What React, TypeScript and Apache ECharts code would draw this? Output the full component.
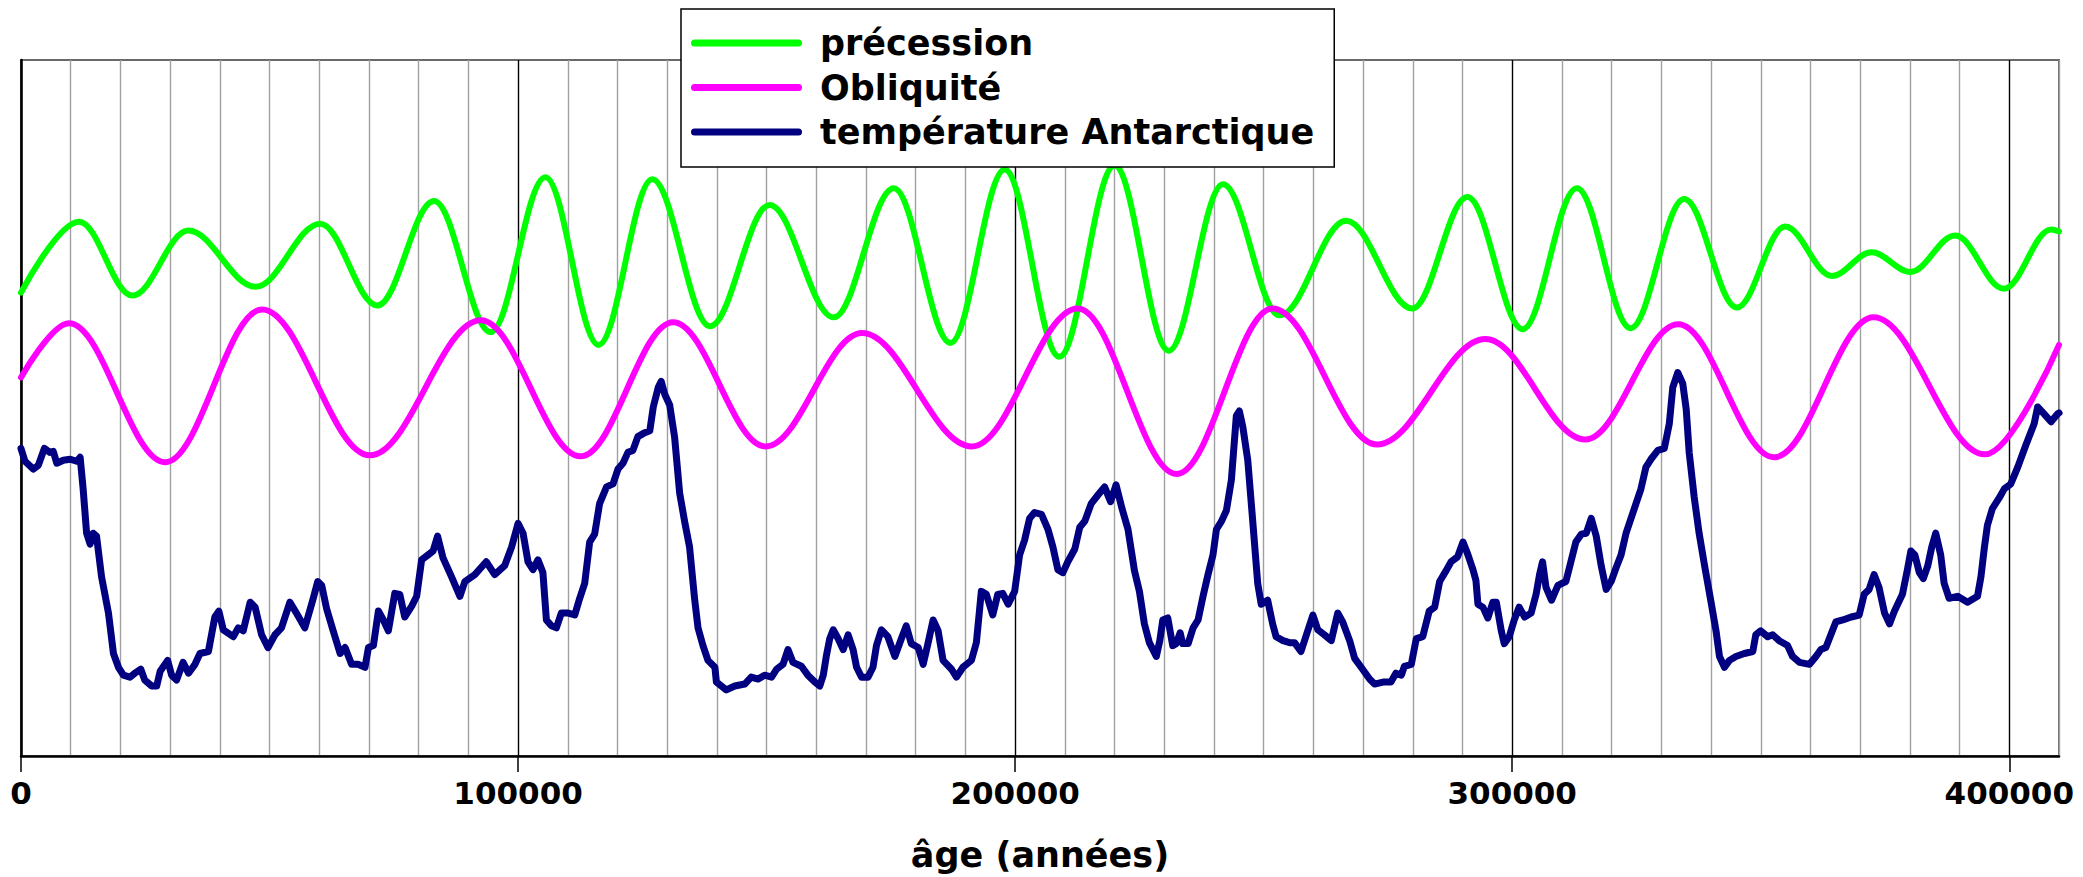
import React, { useEffect, useRef } from 'react';
import * as echarts from 'echarts';

// x: age in years; y: relative (arbitrary) units
const precessionYears = [0, 11700, 22400, 33650, 47200, 60200, 71700, 83100, 94500, 105500, 116200, 127000, 138600, 150600, 163500, 175600, 187000, 197900, 208900, 220000, 230900, 241800, 253200, 266600, 279900, 291000, 302100, 313000, 323800, 334600, 345200, 354900, 364300, 372300, 380100, 389100, 398900, 408400, 410000];
const precessionValues = [470, 542, 467, 533, 476, 540, 457, 563, 430, 587, 417, 585, 436, 559, 445, 576, 419, 595, 405, 599, 411, 580, 447, 543, 454, 567, 433, 576, 434, 565, 455, 537, 487, 511, 491, 528, 474, 534, 532];

const obliquityYears = [0, 9650, 29000, 48500, 70200, 92500, 112600, 131200, 149800, 169200, 191300, 212600, 232500, 251800, 272800, 294600, 314700, 333400, 352700, 372700, 395100, 410000];
const obliquityValues = [384, 439, 298, 453, 305, 442, 304, 440, 314, 429, 314, 454, 286, 454, 316, 423, 321, 438, 303, 445, 306, 417];

const tempYears = [
  0, 800, 2500, 3500, 4700, 5800, 6500, 7200, 8500, 9900, 11200, 11900, 12500, 13200, 13900, 14500, 15200, 16200, 17600, 18600, 19600, 20600, 21900, 22900, 24100, 24900, 26300, 27300, 28000, 29500, 30300, 31300, 32600, 33700, 35000, 36000, 37700, 39000, 39800, 40700, 42700, 43700, 44700, 46100, 47100, 48400, 49700, 51100, 52400, 54100, 55400, 57100, 58800, 59700, 60500, 61500, 62800, 64200, 65200, 66500, 67800, 69200, 69900, 70900, 71900, 72900, 73900, 75200, 76200, 77200, 78600, 79600, 80600, 81900, 82900, 83800, 84900, 86600, 88300, 89300, 91300, 93600, 95300, 97300, 98700, 100000, 101000, 102000, 103000,
  104000, 105000, 105700, 106700, 107700, 108700, 110100, 111400, 112400, 113400, 114400, 115400, 116400, 117800, 119100, 120100, 121100, 122100, 123100, 124100, 125500, 126500, 127200, 128200, 128800, 129500, 130500, 131500, 132500, 133500, 134500, 135500, 136200, 137200, 138200, 139600, 139900, 140900, 141900, 143600, 145600, 146900, 148300, 149600, 151000, 152000, 153300, 154300, 155300, 157000, 158300, 159700, 160700, 161400, 162000, 162700, 163400, 164400, 165400, 166400, 167400, 168100, 169100, 170400, 171400, 172100, 173100, 174400, 175800, 177100, 178100, 179100, 180500, 181500, 182500, 183500, 184500, 185500, 187200, 188200, 189500, 191200, 192200, 193200, 194200, 195500, 196500, 197500, 198600, 199900, 200900, 201900, 202900, 203900,
  205300, 206600, 207600, 208600, 209600, 210600, 212000, 213000, 214000, 215300, 216700, 218000, 219200, 220300, 221500, 222700, 224000, 225000, 226000, 227000, 228400, 229100, 229700, 230700, 231700, 232400, 233200, 233700, 234800, 235800, 236800, 237800, 238800, 239800, 240500, 241500, 242500, 243500, 244500, 245100, 245800, 246800, 247800, 248800, 249500, 250800, 251800, 252500, 253900, 255200, 256200, 257500, 258600, 259900, 260900, 262200, 263600, 264900, 265900, 267300, 268300, 269900, 271300, 272300, 274000, 275600, 276600, 277700, 278300, 279700, 280700, 282000, 283300, 284400, 285400, 286700, 287700, 289000, 290100, 291100, 292100, 292700, 293100, 294100, 295100, 296100, 296800, 297800, 298400, 299400, 300400, 301400, 302500, 303800, 304800, 305500, 306100, 306800, 307900,
  309200, 310800, 311800, 312800, 313900, 314900, 315900, 316900, 317900, 318900, 319900, 320900, 321900, 322900, 323900, 324900, 325900, 326900, 327900, 329300, 330600, 331600, 332300, 333300, 334300, 335000, 335600, 336600, 337600, 338700, 340000, 341000, 341700, 342700, 343700, 345000, 346700, 348400, 349000, 350000, 351400, 352400, 353700, 355400, 356400, 357800, 359800, 361100, 362100, 363100, 364100, 365100, 366500, 368200, 369800, 370800, 371800, 372800, 373800, 374900, 375900, 376900, 378500, 379500, 380200, 381000, 381900, 382700, 383600, 384400, 385200, 386200, 386900, 387900, 389600, 391600, 393600, 394300, 395000, 395600, 396600, 398000, 399000, 400300, 401700, 403300, 405000, 405700, 407000, 408400, 409700, 410000
];
const tempValues = [
  312, 299, 291, 295, 312, 308, 309, 297, 300, 301, 299, 303, 271, 226, 215, 226, 223, 182, 145, 104, 90, 82, 80, 84, 88, 77, 71, 71, 86, 97, 82, 77, 95, 84, 93, 104, 106, 141, 147, 128, 121, 130, 127, 156, 151, 123, 110, 123, 130, 156, 145, 130, 160, 177, 173, 149, 127, 104, 110, 93, 93, 90, 110, 112, 147, 138, 127, 165, 164, 141, 152, 162, 199, 204, 208, 223, 201, 182, 162, 177, 184, 197, 184, 193, 212, 236, 226, 197, 189,
  199, 186, 138, 132, 130, 145, 145, 143, 160, 175, 217, 225, 256, 273, 276, 291, 297, 308, 310, 324, 328, 330, 354, 374, 380, 367, 356, 323, 267, 238, 212, 160, 130, 112, 97, 90, 75, 71, 67, 71, 73, 80, 78, 82, 80, 88, 93, 108, 95, 91, 82, 75, 71, 82, 101, 119, 128, 119, 108, 123, 108, 90, 80, 80, 90, 112, 128, 121, 101, 119, 132, 114, 110, 93, 115, 138, 127, 97, 88, 80, 90, 97, 115, 167, 164, 143, 164, 165, 154, 167, 204, 219, 241, 247,
  245, 230, 212, 189, 186, 197, 210, 232, 238, 256, 265, 273, 258, 275, 251, 230, 188, 167, 134, 115, 101, 117, 138, 140, 112, 114, 125, 114, 114, 130, 138, 162, 184, 204, 230, 238, 249, 280, 345, 350, 334, 300, 238, 175, 154, 158, 134, 121, 117, 115, 115, 106, 123, 143, 128, 123, 117, 145, 136, 117, 99, 88, 78, 73, 75, 75, 84, 82, 91, 93, 119, 121, 147, 151, 177, 188, 197, 202, 217, 204, 189, 178, 154, 151, 140, 156, 156, 127, 114, 121, 138, 151, 141, 145, 164, 184, 197, 171, 158,
  173, 177, 197, 217, 225, 226, 241, 223, 193, 169, 177, 191, 204, 226, 241, 256, 271, 293, 301, 310, 312, 337, 374, 389, 378, 352, 308, 263, 226, 193, 156, 127, 101, 90, 97, 101, 104, 106, 123, 127, 121, 123, 117, 112, 101, 95, 93, 101, 108, 110, 123, 136, 138, 141, 143, 164, 169, 184, 171, 145, 134, 147, 164, 189, 208, 204, 186, 180, 193, 212, 226, 204, 175, 160, 162, 156, 162, 182, 212, 234, 251, 262, 271, 276, 293, 315, 337, 354, 347, 339, 347, 348
];

const majorTicks = [0, 100000, 200000, 300000, 400000];
const seriesNames = ['précession', 'Obliquité', 'température Antarctique'];

const toPairs = (xs: number[], ys: number[]) => xs.map((x, i) => [x, ys[i]]);

const FONT = 'DejaVu Sans';

export default function App() {
  const ref = useRef<HTMLDivElement>(null);
  useEffect(() => {
    const chart = echarts.init(ref.current!, null, { renderer: 'svg' });
    const gridColors = ['#000000'];
    for (let i = 0; i < 9; i++) gridColors.push('#a0a0a0');
    chart.setOption({
      animation: false,
      backgroundColor: '#ffffff',
      textStyle: { fontFamily: FONT },
      grid: {
        left: 21, right: 24, top: 60, bottom: 111,
        show: true, borderColor: '#6a6a6a', borderWidth: 2, backgroundColor: 'transparent',
      },
      legend: {
        orient: 'vertical', left: 681, top: 9,
        padding: [14, 20, 15, 10],
        backgroundColor: '#ffffff', borderColor: '#000000', borderWidth: 1.5, borderRadius: 0,
        itemWidth: 111, itemHeight: 7, itemGap: 4.5,
        icon: 'path://M3.5,0 L107.5,0 A3.5,3.5 0 0 1 107.5,7 L3.5,7 A3.5,3.5 0 0 1 3.5,0 Z',
        selectedMode: false,
        textStyle: { fontFamily: FONT, fontSize: 35, fontWeight: 'bold', color: '#000', lineHeight: 40, padding: [0, 0, 0, 13] },
        data: seriesNames,
      },
      xAxis: [
        {
          // grid lines every 10000 years (every tenth one black)
          type: 'value', min: 0, max: 410000, interval: 10000, position: 'bottom',
          axisLine: { show: false }, axisTick: { show: false }, axisLabel: { show: false },
          splitLine: { show: true, lineStyle: { color: gridColors, width: 1.4 } },
        },
        {
          type: 'value', min: 0, max: 410000, interval: 100000, position: 'bottom', offset: 0,
          name: 'âge (années)', nameLocation: 'middle', nameGap: 81,
          nameTextStyle: { fontFamily: FONT, fontSize: 35, fontWeight: 'bold', color: '#000' },
          axisLine: { show: true, onZero: false, lineStyle: { color: '#000', width: 2.5 } },
          axisTick: { show: true, length: 16, lineStyle: { color: '#000', width: 1.5 }, customValues: majorTicks },
          axisLabel: {
            show: true, margin: 21, fontFamily: FONT, fontSize: 31, fontWeight: 'bold', color: '#000',
            customValues: majorTicks, formatter: (v: number) => String(v),
          },
          splitLine: { show: false },
        },
      ],
      yAxis: {
        type: 'value', min: 0, max: 706,
        axisLine: { show: true, lineStyle: { color: '#000', width: 2.5 } },
        axisTick: { show: false }, axisLabel: { show: false }, splitLine: { show: false },
      },
      series: [
        {
          name: seriesNames[0], type: 'line', xAxisIndex: 0, symbol: 'none', smooth: 0.36, smoothMonotone: 'x',
          data: toPairs(precessionYears, precessionValues),
          lineStyle: { color: '#00ff00', width: 6, cap: 'round', join: 'round' },
          itemStyle: { color: '#00ff00' },
        },
        {
          name: seriesNames[1], type: 'line', xAxisIndex: 0, symbol: 'none', smooth: 0.36, smoothMonotone: 'x',
          data: toPairs(obliquityYears, obliquityValues),
          lineStyle: { color: '#ff00ff', width: 6, cap: 'round', join: 'round' },
          itemStyle: { color: '#ff00ff' },
        },
        {
          name: seriesNames[2], type: 'line', xAxisIndex: 0, symbol: 'none',
          data: toPairs(tempYears, tempValues),
          lineStyle: { color: '#000080', width: 7, cap: 'round', join: 'round' },
          itemStyle: { color: '#000080' },
        },
      ],
    });
    return () => chart.dispose();
  }, []);
  return <div ref={ref} style={{ position: 'absolute', left: 0, top: 0, width: 2083, height: 877 }} />;
}
